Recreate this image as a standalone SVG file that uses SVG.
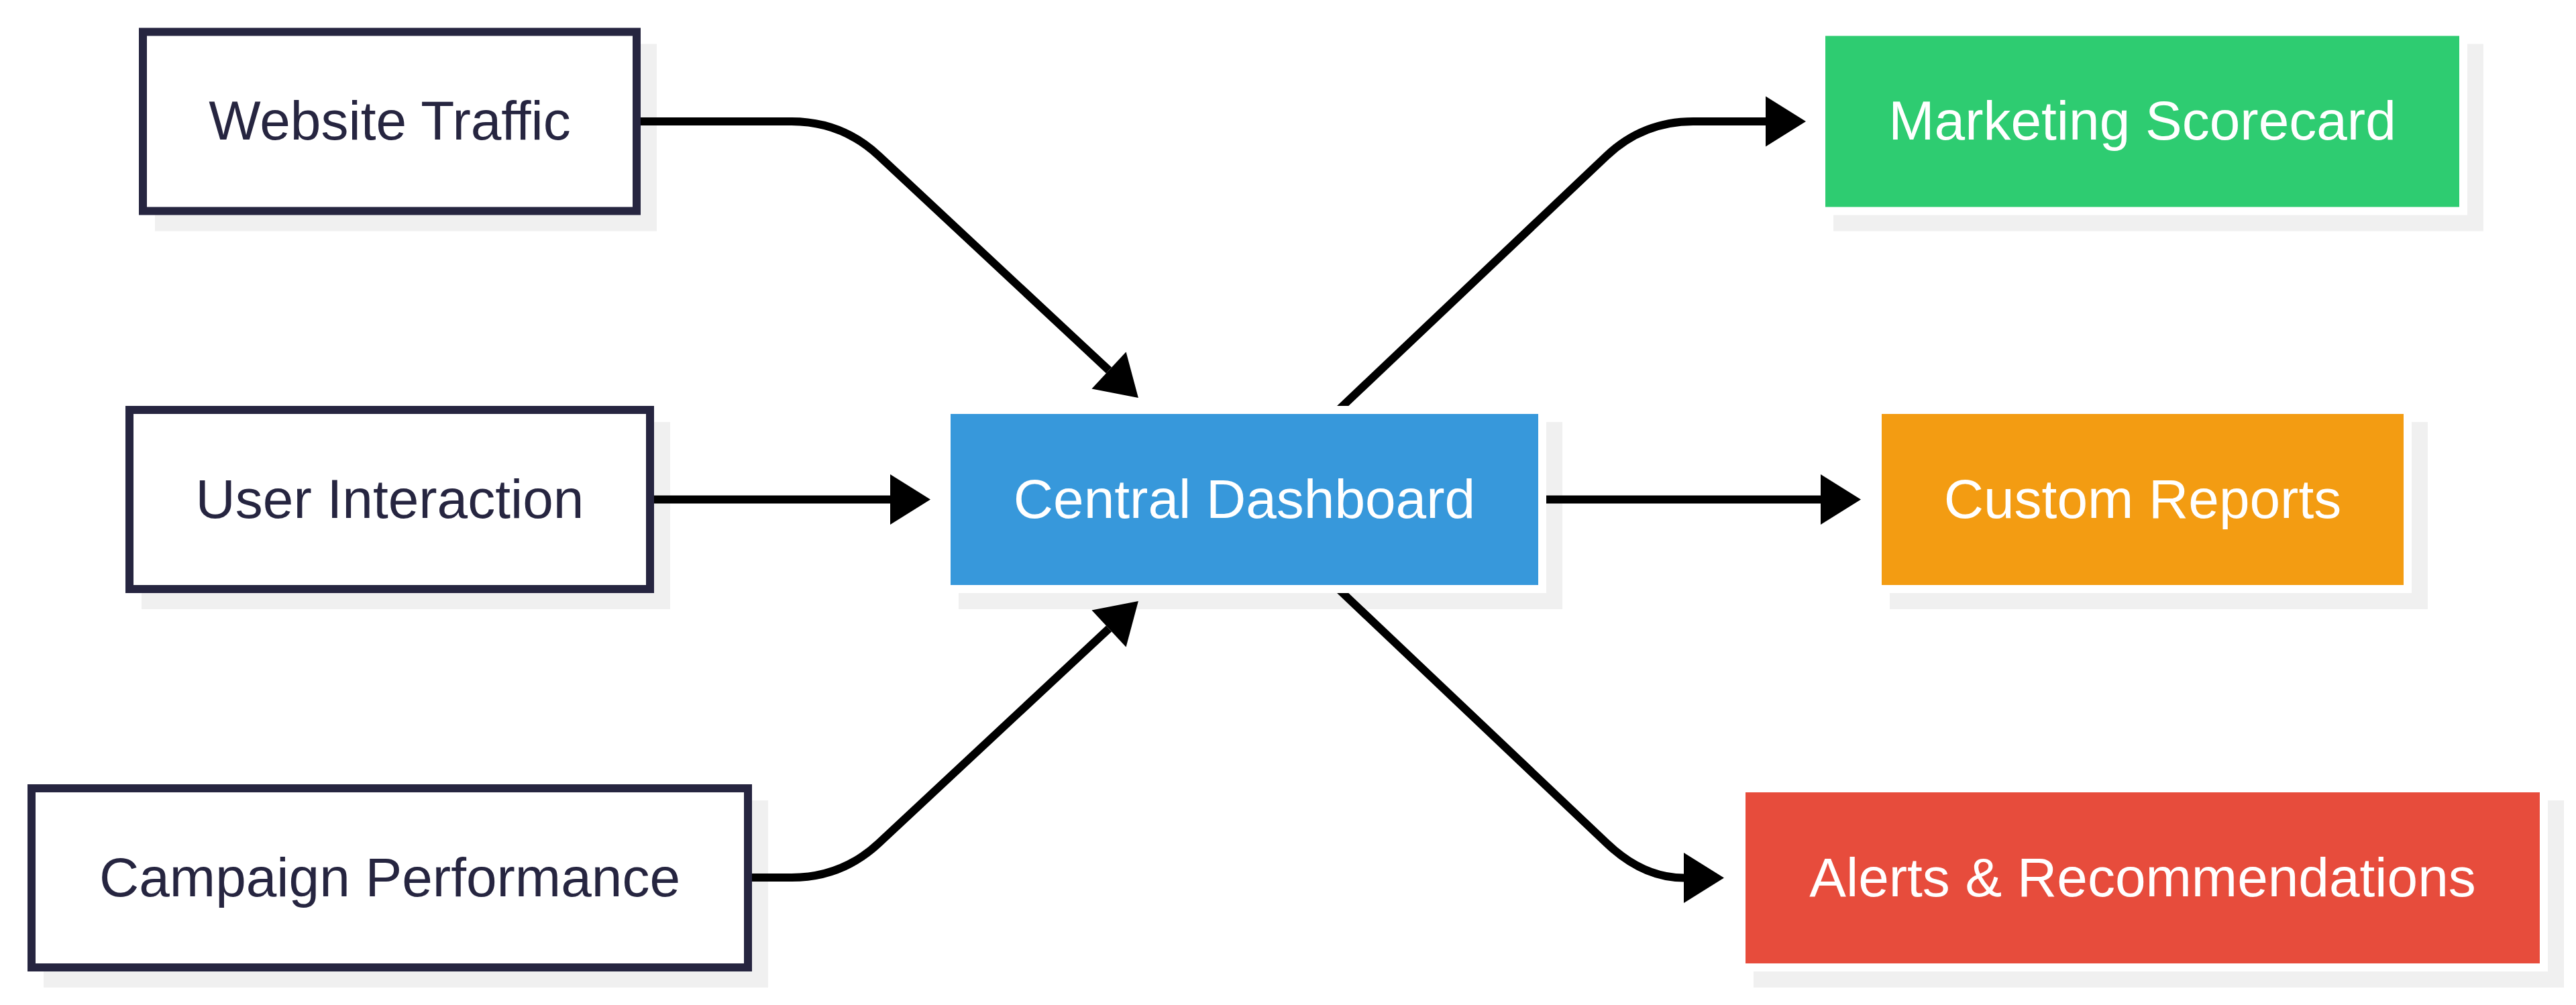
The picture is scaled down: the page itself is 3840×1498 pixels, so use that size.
<svg xmlns="http://www.w3.org/2000/svg" width="3840" height="1498" viewBox="0 0 3840 1498">
<style>
.bg{fill:#ffffff}
.sh{fill:#f0f0f0;stroke:#f0f0f0;stroke-width:12}
.out{fill:#ffffff;stroke:#262540;stroke-width:12}
.fil{stroke:#ffffff;stroke-width:12}
.edge{fill:none;stroke:#000000;stroke-width:12;marker-end:url(#arr)}
.t{font-family:"Liberation Sans",Arial,sans-serif;font-size:82px;text-anchor:middle}
.td{fill:#262540}
.tw{fill:#ffffff}
</style>
<defs>
<marker id="arr" markerUnits="userSpaceOnUse" markerWidth="62" markerHeight="77" refX="0" refY="37.5" orient="auto" overflow="visible">
<path d="M0,0 L60,37.5 L0,75 Z" fill="#000000"/>
</marker>
</defs>
<rect class="bg" x="0" y="0" width="3840" height="1498"/>
<g id="shadows">
<rect class="sh" x="237" y="71.5" width="736" height="267"/>
<rect class="sh" x="217" y="635" width="776" height="267"/>
<rect class="sh" x="71" y="1199" width="1068" height="267"/>
<rect class="sh" x="1435" y="635" width="888" height="267"/>
<rect class="sh" x="2739" y="71.5" width="957" height="267"/>
<rect class="sh" x="2823" y="635" width="790" height="267"/>
<rect class="sh" x="2620" y="1199" width="1196" height="267"/>
</g>
<g id="connectors">
<path class="edge" d="M949 181 H1180 Q1255 181 1309.9 232.1 L1653 552"/>
<path class="edge" d="M969 744.5 H1327"/>
<path class="edge" d="M1115 1308 H1180 Q1255 1308 1309.9 1256.9 L1653 937"/>
<path class="edge" d="M1989 617 L2394.6 232.6 Q2449 181 2524 181 H2632"/>
<path class="edge" d="M2299 744.5 H2714"/>
<path class="edge" d="M1989 872 L2394.6 1256.4 Q2449 1308.5 2510 1308.5"/>
</g>
<g id="website-traffic">
<rect class="out" x="213" y="47.5" width="736" height="267"/>
<text class="t td" x="581" y="208">Website Traffic</text>
</g>
<g id="user-interaction">
<rect class="out" x="193" y="611" width="776" height="267"/>
<text class="t td" x="581" y="771.5">User Interaction</text>
</g>
<g id="campaign-performance">
<rect class="out" x="47" y="1175" width="1068" height="267"/>
<text class="t td" x="581" y="1335.5">Campaign Performance</text>
</g>
<g id="central-dashboard">
<rect class="fil" fill="#3798db" x="1411" y="611" width="888" height="267"/>
<text class="t tw" x="1855" y="771.5">Central Dashboard</text>
</g>
<g id="marketing-scorecard">
<rect class="fil" fill="#2ecc71" x="2715" y="47.5" width="957" height="267"/>
<text class="t tw" x="3193.5" y="208">Marketing Scorecard</text>
</g>
<g id="custom-reports">
<rect class="fil" fill="#f39c12" x="2799" y="611" width="790" height="267"/>
<text class="t tw" x="3194" y="771.5">Custom Reports</text>
</g>
<g id="alerts-recommendations">
<rect class="fil" fill="#e74c3c" x="2596" y="1175" width="1196" height="267"/>
<text class="t tw" x="3194" y="1335.5">Alerts &amp; Recommendations</text>
</g>
</svg>
